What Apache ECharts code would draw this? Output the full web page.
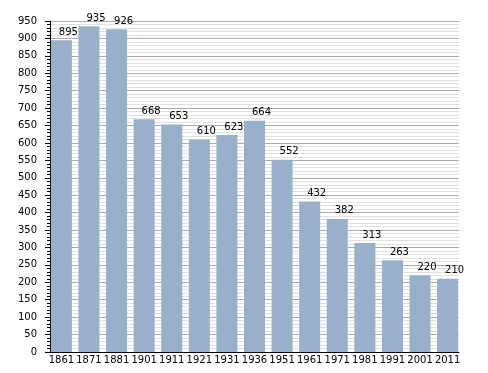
<!DOCTYPE html>
<html>
<head>
<meta charset="utf-8">
<script src="https://cdn.jsdelivr.net/npm/echarts@6/dist/echarts.min.js"></script>
<style>html,body{margin:0;padding:0;background:#fff}#c{width:488px;height:373px}</style>
</head>
<body>
<div id="c"></div>
<script>
const years = ['1861','1871','1881','1901','1911','1921','1931','1936','1951','1961','1971','1981','1991','2001','2011'];
const population = [895, 935, 926, 668, 653, 610, 623, 664, 552, 432, 382, 313, 263, 220, 210];
const yTicks = [0, 950, 50];

const chart = echarts.init(document.getElementById('c'), null, {renderer: 'canvas'});
const idx = years.map((_, i) => i);
chart.setOption({
  animation: false,
  backgroundColor: '#fff',
  textStyle: {fontFamily: 'DejaVu Sans'},
  grid: {left: 50, right: 29, top: 21, bottom: 21, containLabel: false},
  xAxis: {
    type: 'value',
    min: -0.413,
    max: years.length - 1 + 0.413,
    axisLine: {show: true, onZero: false, lineStyle: {color: '#000', width: 1}},
    axisTick: {show: false},
    splitLine: {show: false},
    axisLabel: {
      customValues: idx,
      formatter: v => years[Math.round(v)],
      color: '#000', fontSize: 10, margin: 3, fontFamily: 'DejaVu Sans'
    }
  },
  yAxis: {
    type: 'value',
    min: yTicks[0], max: yTicks[1], interval: yTicks[2],
    axisLine: {show: true, onZero: false, lineStyle: {color: '#000', width: 1}},
    axisTick: {show: true, length: 5, lineStyle: {color: '#000'}},
    minorTick: {show: true, splitNumber: 5, length: 3, lineStyle: {color: '#000'}},
    splitLine: {show: true, lineStyle: {color: '#aaaaaa', width: 1}},
    minorSplitLine: {show: true, lineStyle: {color: '#e0e0e0', width: 1}},
    axisLabel: {color: '#000', fontSize: 10, margin: 13, fontFamily: 'DejaVu Sans'}
  },
  series: [{
    type: 'bar',
    data: population.map((v, i) => [i, v]),
    barWidth: 21,
    itemStyle: {color: '#98b0ca'},
    label: {
      show: true, position: 'top', distance: 3, offset: [7, 0],
      color: '#000', fontSize: 10, fontFamily: 'DejaVu Sans'
    }
  }]
});
</script>
</body>
</html>
